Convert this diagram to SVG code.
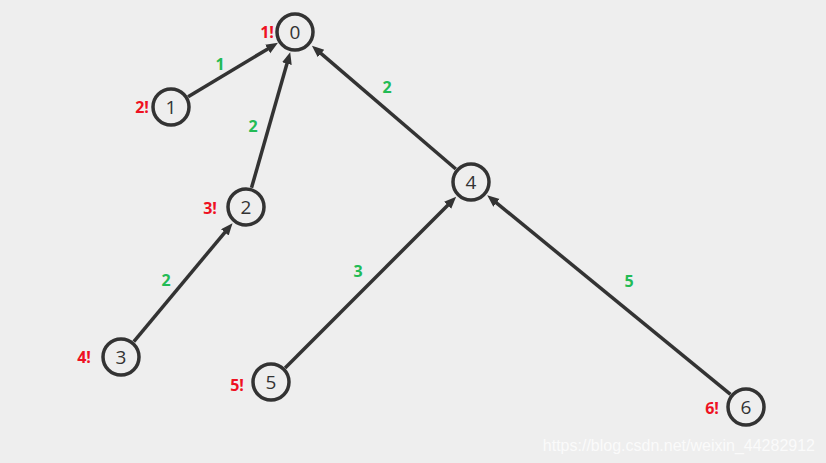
<svg xmlns="http://www.w3.org/2000/svg" width="826" height="463" viewBox="0 0 826 463">
<style>
.n circle{fill:#eeeeee;stroke:#333333;stroke-width:3.5}
.n text.v{font-family:"Open Sans","Noto Sans",sans-serif;font-size:19px;fill:#333333;text-anchor:middle;dominant-baseline:central}
.e line{stroke:#333333;stroke-width:3.5}
text.r{font-family:"Open Sans","Noto Sans",sans-serif;font-size:16px;font-weight:bold;fill:#ee1122;text-anchor:middle;dominant-baseline:central}
text.w{font-family:"Open Sans","Noto Sans",sans-serif;font-size:16px;font-weight:bold;fill:#22bb55;text-anchor:middle;dominant-baseline:central}
</style>
<defs>
<marker id="ah" markerUnits="userSpaceOnUse" markerWidth="14" markerHeight="12" refX="4" refY="5" orient="auto">
<path d="M0,0 L12,5 L0,10 z" fill="#333333"/>
</marker>
</defs>
<rect width="826" height="463" fill="#eeeeee"/>
<g id="edges" class="e">
<line x1="188.1" y1="96.7" x2="271.1" y2="46.9" marker-end="url(#ah)"/>
<line x1="251.5" y1="187.8" x2="288.0" y2="59.9" marker-end="url(#ah)"/>
<line x1="133.8" y1="341.6" x2="227.4" y2="229.3" marker-end="url(#ah)"/>
<line x1="455.8" y1="169" x2="318.0" y2="50.9" marker-end="url(#ah)"/>
<line x1="285.1" y1="367.9" x2="450.5" y2="202.5" marker-end="url(#ah)"/>
<line x1="730.5" y1="394.3" x2="493.4" y2="200.4" marker-end="url(#ah)"/>
</g>
<g id="weights">
<text class="w" x="220" y="64">1</text>
<text class="w" x="253" y="126">2</text>
<text class="w" x="166" y="280">2</text>
<text class="w" x="387" y="87">2</text>
<text class="w" x="358" y="271">3</text>
<text class="w" x="629" y="281">5</text>
</g>
<g id="node0" class="n"><circle cx="295" cy="32" r="18"/><text class="v" x="295" y="32">0</text><text class="r" x="267" y="32">1!</text></g>
<g id="node1" class="n"><circle cx="171" cy="107" r="18"/><text class="v" x="171" y="107">1</text><text class="r" x="142" y="107">2!</text></g>
<g id="node2" class="n"><circle cx="246" cy="207" r="18"/><text class="v" x="246" y="207">2</text><text class="r" x="210" y="208">3!</text></g>
<g id="node3" class="n"><circle cx="121" cy="357" r="18"/><text class="v" x="121" y="357">3</text><text class="r" x="84" y="357">4!</text></g>
<g id="node4" class="n"><circle cx="471" cy="182" r="18"/><text class="v" x="471" y="182">4</text></g>
<g id="node5" class="n"><circle cx="271" cy="382" r="18"/><text class="v" x="271" y="382">5</text><text class="r" x="237" y="385">5!</text></g>
<g id="node6" class="n"><circle cx="746" cy="407" r="18"/><text class="v" x="746" y="407">6</text><text class="r" x="712" y="408">6!</text></g>
<text x="815" y="451" font-family="Liberation Sans,Arial,sans-serif" font-size="16" fill="#ffffff" fill-opacity="0.75" text-anchor="end">https://blog.csdn.net/weixin_44282912</text>
</svg>
